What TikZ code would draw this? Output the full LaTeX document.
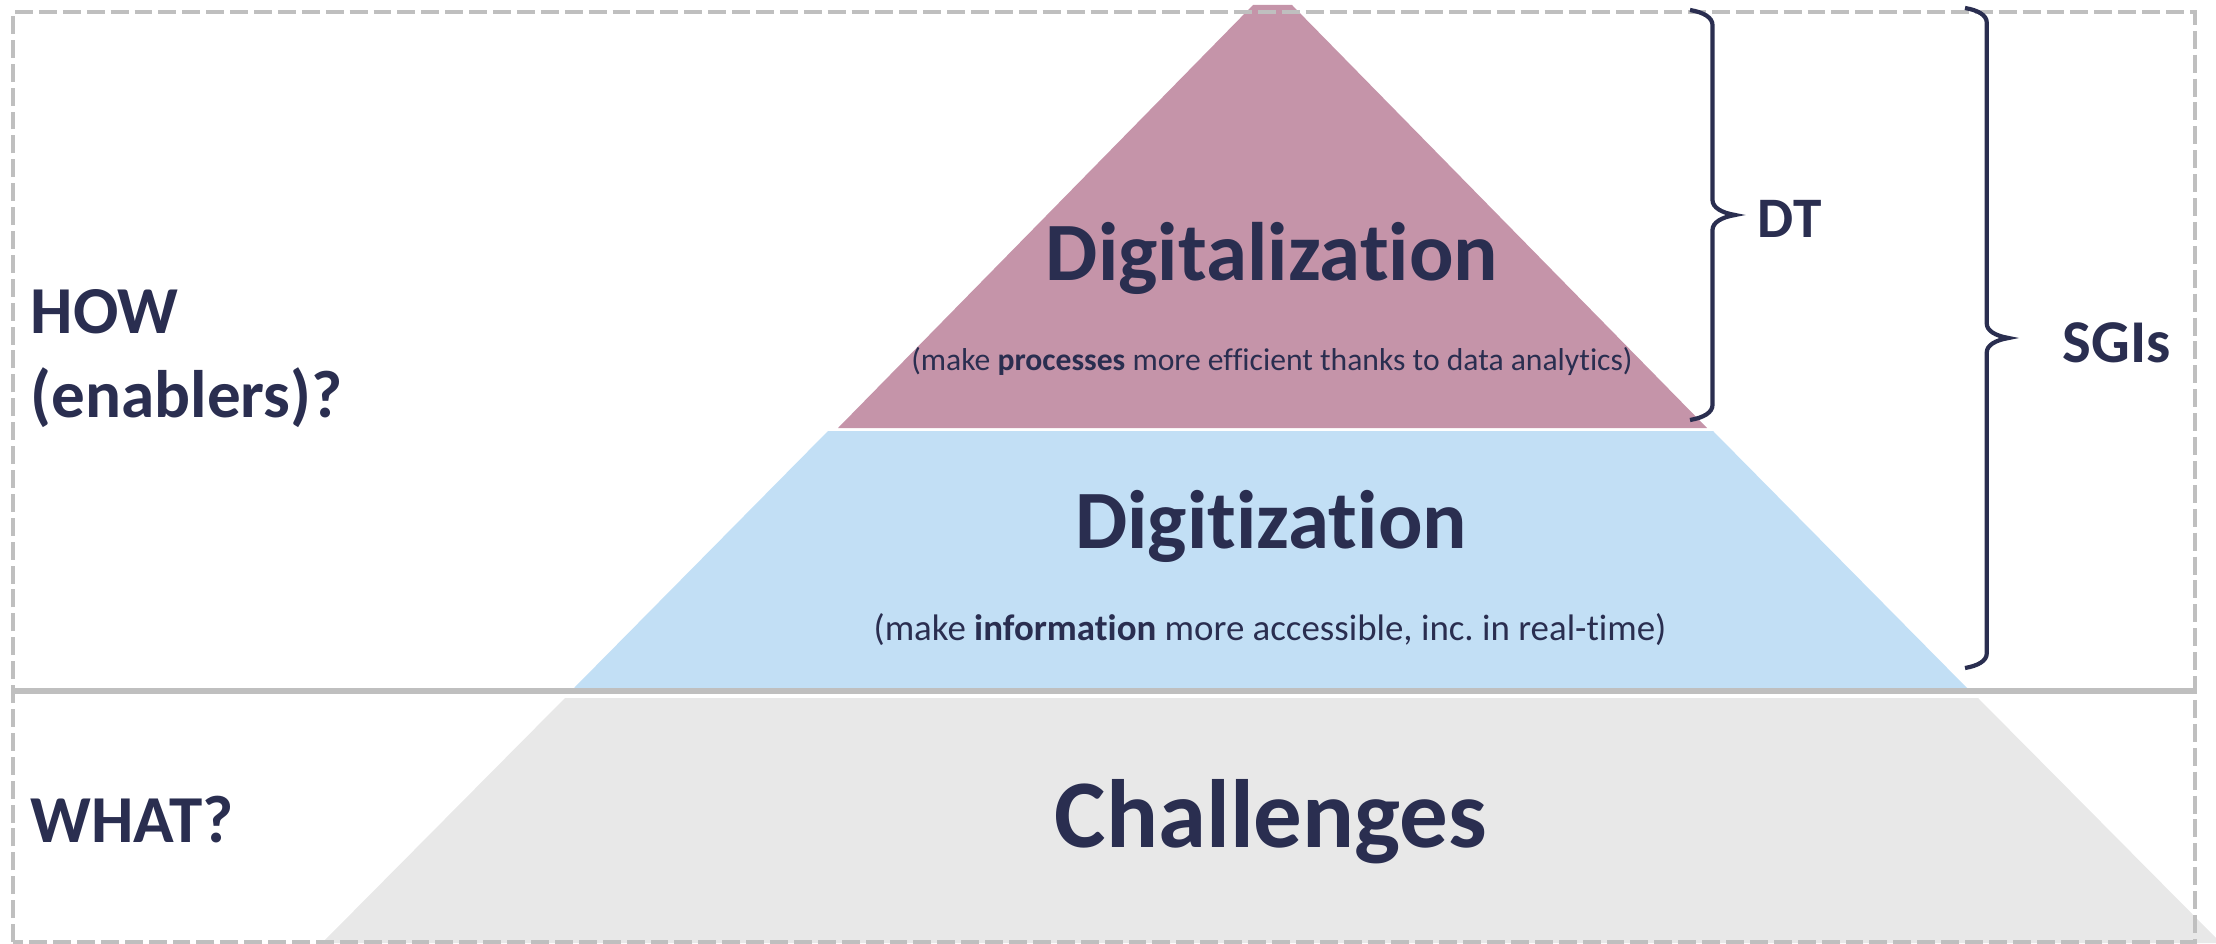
\documentclass[tikz,border=0pt]{standalone}
\usepackage{fontspec}
\setmainfont{Carlito}[Ligatures=NoCommon]
\usetikzlibrary{decorations.pathreplacing}

\definecolor{navy}{RGB}{42,46,80}
\definecolor{digipink}{RGB}{197,148,169}
\definecolor{digiblue}{RGB}{194,223,245}
\definecolor{chalgray}{RGB}{232,232,232}
\definecolor{framegray}{RGB}{191,191,191}

\begin{document}
\begin{tikzpicture}[
  frame/.style={framegray, line width=1.4pt, dash pattern=on 5.1pt off 1.7pt},
  layer/.style={font=\bfseries\fontsize{23.6}{28}\selectfont, text=navy, inner sep=0pt, anchor=base},
  note/.style={text=navy, inner sep=0pt, anchor=base},
  side/.style={font=\bfseries\fontsize{19.1}{23.9}\selectfont, text=navy, inner sep=0pt, anchor=base west, align=left},
  curly/.style={navy, line width=1.2pt, decorate,
    decoration={brace, amplitude=#1, transform={yscale=3}}},
]
  \useasboundingbox (0,0) rectangle (22.16,9.43);
  \clip (0,0) rectangle (22.16,9.43);
  % Pyramid layers, bottom to top
  \fill[chalgray] (3.22,0) -- (5.65,2.45) -- (19.78,2.45) -- (22.21,0) -- cycle;
  \fill[digiblue] (5.74,2.55) -- (8.28,5.12) -- (17.13,5.12) -- (19.67,2.55) -- cycle;
  \fill[digipink] (8.38,5.15) -- (12.53,9.38) -- (12.92,9.38) -- (17.07,5.15) -- cycle;
  % Frame and divider
  \draw[frame] (0.13,0.01) rectangle (21.95,9.31);
  \draw[framegray, line width=1.7pt] (0.13,2.52) -- (21.95,2.52);
  % Layer labels
  \node[layer] (digitalization) at (12.72,6.63) {Digitalization};
  \node[note, font=\fontsize{9}{11}\selectfont] (processes) at (12.72,5.73)
    {(make \textbf{processes} more efficient thanks to data analytics)};
  \node[layer] (digitization) at (12.71,3.95) {Digitization};
  \node[note, font=\fontsize{10.5}{13}\selectfont] (information) at (12.70,3.03)
    {(make \textbf{information} more accessible, inc.\ in real-time)};
  \node[layer, font=\bfseries\fontsize{27.6}{33}\selectfont] (challenges) at (12.71,0.96) {Challenges};
  % Left questions
  \node[side] (how) at (0.30,5.26) {HOW\\(enablers)?};
  \node[side] (what) at (0.30,1.01) {WHAT?};
  % Braces
  \coordinate (dtTop) at (16.90,9.33);
  \coordinate (dtBot) at (16.90,5.23);
  \draw[curly=0.15cm] (dtTop) -- (dtBot);
  \node[note, anchor=base west, font=\bfseries\fontsize{16.3}{19}\selectfont] (dt) at (17.57,7.06) {DT};
  \coordinate (sgiTop) at (19.65,9.35);
  \coordinate (sgiBot) at (19.65,2.75);
  \draw[curly=0.145cm] (sgiTop) -- (sgiBot);
  \node[note, anchor=base west, font=\bfseries\fontsize{17.3}{20}\selectfont] (sgis) at (20.62,5.81) {SGIs};
\end{tikzpicture}
\end{document}
